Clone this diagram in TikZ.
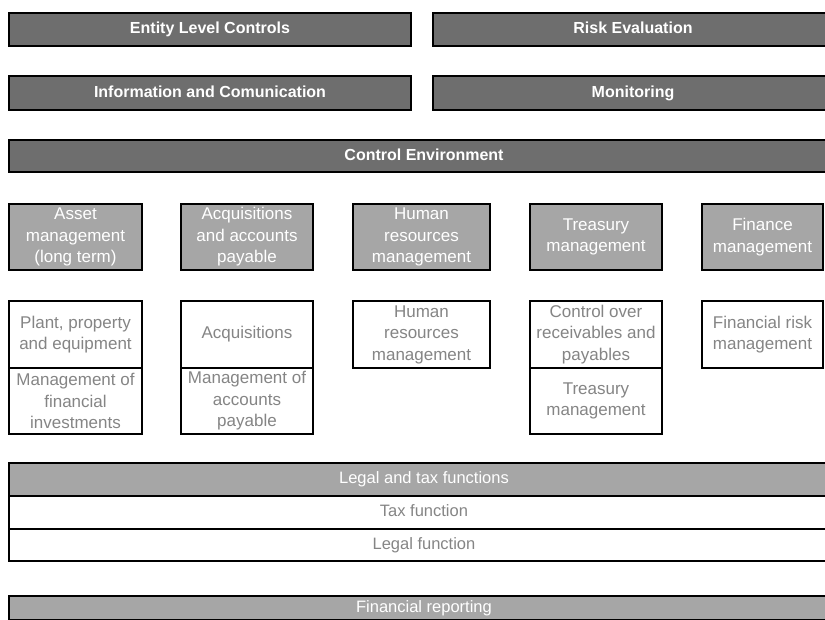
\documentclass[tikz,border=0pt]{standalone}
\usepackage{fontspec}
\setmainfont{Liberation Sans}
\definecolor{darkfill}{HTML}{6E6E6E}
\definecolor{midfill}{HTML}{A6A6A6}
\definecolor{txtgray}{HTML}{858585}
\tikzset{
  base/.style={draw=black, line width=2.4pt, inner sep=0pt, outer sep=0pt, anchor=north west, align=center},
  dark/.style={base, fill=darkfill, text=white, font=\fontsize{16}{19}\selectfont\bfseries, text height=11.5pt, text depth=3.4pt},
  mid/.style={base, fill=midfill, text=white, font=\fontsize{17}{21.5}\selectfont},
  light/.style={base, fill=white, text=txtgray, font=\fontsize{17}{21.5}\selectfont},
  bandmid/.style={base, fill=midfill, text=white, font=\fontsize{16.5}{20}\selectfont, text height=11.8pt, text depth=3.5pt},
  bandlight/.style={base, fill=white, text=txtgray, font=\fontsize{16.5}{20}\selectfont, text height=11.8pt, text depth=3.5pt},
}
\begin{document}
\begin{tikzpicture}[x=1pt,y=-1pt]
\useasboundingbox (0,0) rectangle (825,619);
\clip (0,0) rectangle (825,619);
\fill[white] (0,0) rectangle (825,619);
% top row
\node[dark, minimum width=402pt, minimum height=33pt] (ent) at (9,13) {Entity Level Controls};
\node[dark, minimum width=400pt, minimum height=33pt] (risk) at (433,13) {Risk Evaluation};
\node[dark, minimum width=402pt, minimum height=34pt] (info) at (9,76) {Information and Comunication};
\node[dark, minimum width=400pt, minimum height=34pt] (mon) at (433,76) {Monitoring};
\node[dark, minimum width=830pt, minimum height=32pt] (ctrl) at (9,140) {Control Environment};
% grey row
\node[mid, minimum width=133pt, minimum height=66pt] (g1) at (9,204) {Asset\\management\\(long term)};
\node[mid, minimum width=132pt, minimum height=66pt] (g2) at (181,204) {Acquisitions\\and accounts\\payable};
\node[mid, minimum width=137pt, minimum height=66pt] (g3) at (353,204) {Human\\resources\\management};
\node[mid, minimum width=132pt, minimum height=66pt] (g4) at (530,204) {Treasury\\management};
\node[mid, minimum width=121pt, minimum height=66pt] (g5) at (702,204) {Finance\\management};
% white row
\node[light, minimum width=133pt, minimum height=67pt] (w1a) at (9,301) {Plant, property\\and equipment};
\node[light, minimum width=133pt, minimum height=66pt] (w1b) at (9,368) {Management of\\financial\\investments};
\node[light, minimum width=132pt, minimum height=67pt] (w2a) at (181,301) {Acquisitions};
\node[light, minimum width=132pt, minimum height=66pt] (w2b) at (181,368) {Management of\\accounts\\payable};
\node[light, minimum width=137pt, minimum height=67pt] (w3) at (353,301) {Human\\resources\\management};
\node[light, minimum width=132pt, minimum height=67pt] (w4a) at (530,301) {Control over\\receivables and\\payables};
\node[light, minimum width=132pt, minimum height=66pt] (w4b) at (530,368) {Treasury\\management};
\node[light, minimum width=121pt, minimum height=67pt] (w5) at (702,301) {Financial risk\\management};
% bands
\node[bandmid, minimum width=830pt, minimum height=33pt] (legal) at (9,463) {Legal and tax functions};
\node[bandlight, minimum width=830pt, minimum height=33pt] (tax) at (9,496) {Tax function};
\node[bandlight, minimum width=830pt, minimum height=32pt] (legf) at (9,529) {Legal function};
\node[bandmid, minimum width=830pt, minimum height=24pt] (finrep) at (9,596) {Financial reporting};
\end{tikzpicture}
\end{document}
